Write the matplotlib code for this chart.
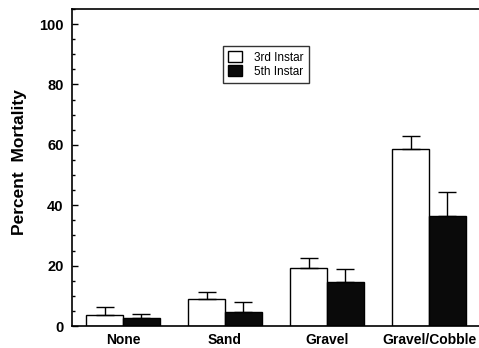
import matplotlib
matplotlib.use("Agg")
import matplotlib.pyplot as plt
import numpy as np
from matplotlib.ticker import MultipleLocator

categories = ["None", "Sand", "Gravel", "Gravel/Cobble"]
instar3 = [3.8, 9.0, 19.1, 58.5]
instar3_err = [2.5, 2.2, 3.4, 4.5]
instar5 = [2.6, 4.7, 14.7, 36.5]
instar5_err = [1.4, 3.1, 4.3, 8.0]

plt.rcParams['font.family'] = ['Liberation Sans', 'DejaVu Sans']
plt.rcParams['font.weight'] = 'bold'

fig = plt.figure(figsize=(4.79, 3.48), dpi=100)
ax = fig.add_axes([72/479, 22/348, 407/479, 317/348])

x = np.arange(len(categories))
w = 0.36
ax.bar(x - w/2, instar3, w, color='white', edgecolor='black', linewidth=1.0,
       label='3rd Instar', zorder=2)
ax.bar(x + w/2, instar5, w, color='#0a0a0a', edgecolor='black', linewidth=1.0,
       label='5th Instar', zorder=2)
ax.errorbar(x - w/2, instar3, yerr=[np.zeros(4), instar3_err], fmt='none',
            ecolor='black', elinewidth=1.0, capsize=6.5, capthick=1.0, zorder=3)
ax.errorbar(x + w/2, instar5, yerr=[np.zeros(4), instar5_err], fmt='none',
            ecolor='black', elinewidth=1.0, capsize=6.5, capthick=1.0, zorder=3)

ax.set_xlim(-0.5, 3.49)
ax.set_ylim(0, 105)
ax.set_xticks(x)
ax.set_xticklabels(categories, fontsize=10, fontweight='bold')
ax.tick_params(axis='x', length=0, pad=5)
ax.yaxis.set_major_locator(MultipleLocator(20))
ax.yaxis.set_minor_locator(MultipleLocator(5))
ax.tick_params(axis='y', which='major', direction='in', length=4, width=1, labelsize=10.5, pad=6)
ax.tick_params(axis='y', which='minor', direction='in', length=2, width=1)
for lab in ax.get_yticklabels():
    lab.set_fontweight('bold')
ax.spines['right'].set_visible(False)
for s in ['left', 'top', 'bottom']:
    ax.spines[s].set_linewidth(1.2)
ax.set_ylabel('Percent  Mortality', fontsize=12.5, fontweight='bold')
ax.yaxis.set_label_coords(-(72-27)/407, (326-162)/317)

leg = ax.legend(loc='upper left', bbox_to_anchor=((223-72)/407, (348-46-22)/317),
                borderaxespad=0, frameon=True, fancybox=False, edgecolor='black',
                handlelength=1.2, handleheight=1.0, handletextpad=1.0,
                borderpad=0.45, labelspacing=0.15,
                prop={'size': 8.5, 'weight': 'normal'})
leg.get_frame().set_linewidth(1.0)

fig.savefig('out.png', dpi=100)
